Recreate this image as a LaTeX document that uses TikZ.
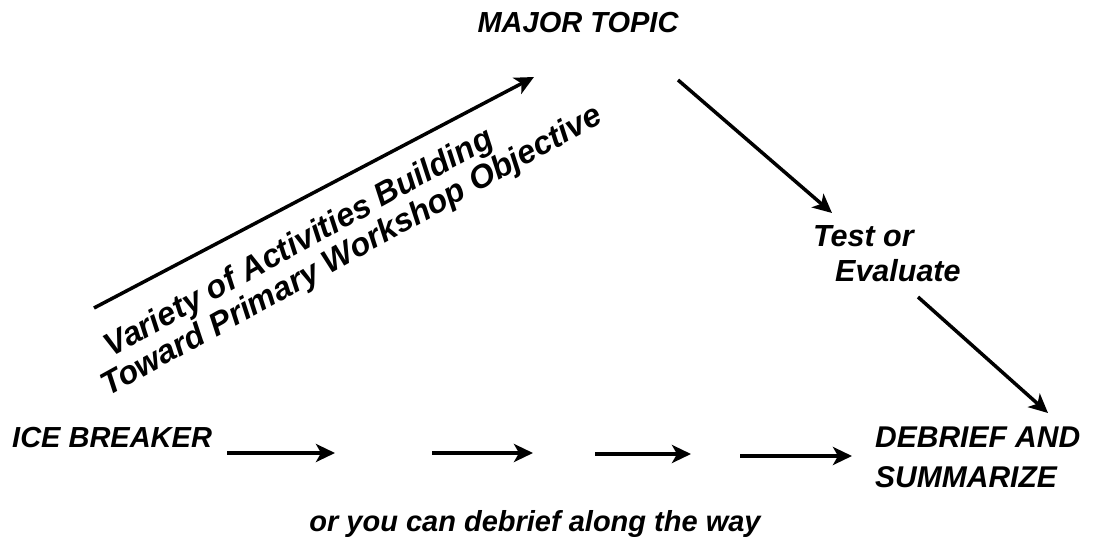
\documentclass[tikz,border=0pt]{standalone}
\usepackage{fontspec}
\setmainfont{Liberation Sans}
\usetikzlibrary{arrows.meta}

\begin{document}
\begin{tikzpicture}[x=1pt,y=-1pt]
\tikzset{label/.style = {inner sep=0pt,font=\bfseries\itshape\fontsize{29}{35}\selectfont}}
\tikzset{biglabel/.style = {label,anchor=base west,align=left}}
\tikzset{slant/.style = {inner sep=0pt,rotate=29,anchor=base west,
font=\bfseries\itshape\fontsize{32.5}{38}\selectfont}}
\tikzset{edge/.style = {-{Stealth[length=19pt,width=18pt,inset=5pt]},line width=3.5pt}}
\useasboundingbox[fill=white] (0,0) rectangle (1096,545);
% labels
\node[label,anchor=base] (major) at (578,33) {MAJOR TOPIC};
\node[label,anchor=base west] (ice) at (12,447) {ICE BREAKER};
\node[biglabel,font=\bfseries\itshape\fontsize{30.5}{35}\selectfont] (test) at (813,282)
  {Test or\\\hspace{0.72em}Evaluate};
\node[biglabel,font=\bfseries\itshape\fontsize{30}{40}\selectfont] (debrief) at (875,487)
  {DEBRIEF AND\\SUMMARIZE};
\node[label,anchor=base] (way) at (535,531) {or you can debrief along the way};
\node[slant] (var1) at (111,358) {Variety of Activities Building};
\node[slant] (var2) at (108,397) {Toward Primary Workshop Objective};
% ends of the arrows
\coordinate (rise1) at (94,308);
\coordinate (rise2) at (534,77);
\coordinate (topout) at (678,80);
\coordinate (testin) at (832,213);
\coordinate (testout) at (918,297);
\coordinate (debin) at (1048,413);
\coordinate (s1) at (227,453);
\coordinate (e1) at (335,453);
\coordinate (s2) at (432,453);
\coordinate (e2) at (533,453);
\coordinate (s3) at (595,454);
\coordinate (e3) at (691,454);
\coordinate (s4) at (740,456);
\coordinate (e4) at (852,456);
%edges
\draw[edge] (rise1) to (rise2);
\draw[edge] (topout) to (testin);
\draw[edge] (testout) to (debin);
\draw[edge] (s1) to (e1);
\draw[edge] (s2) to (e2);
\draw[edge] (s3) to (e3);
\draw[edge] (s4) to (e4);
\end{tikzpicture}
\end{document}
